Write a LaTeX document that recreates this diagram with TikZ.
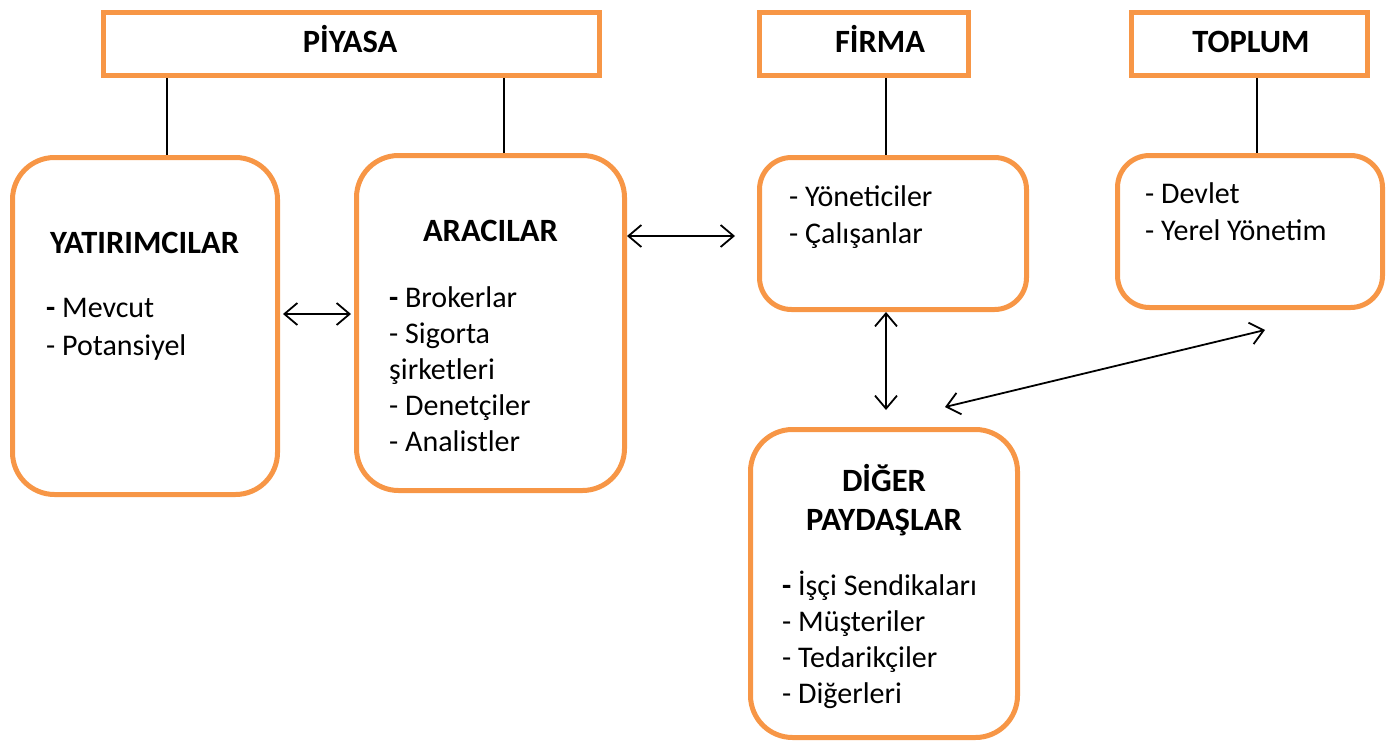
\documentclass[tikz,border=0pt]{standalone}
\usepackage{fontspec}
\setmainfont{Carlito}
\usetikzlibrary{arrows.meta}
\definecolor{boxorange}{HTML}{F79646}
\begin{document}
\begin{tikzpicture}[x=1pt,y=-1pt,
  frame/.style={draw=boxorange, line width=5pt, inner sep=0pt},
  roundbig/.style={frame, rounded corners=42pt},
  roundsmall/.style={frame, rounded corners=32pt},
  title/.style={font=\fontsize{32.5}{38}\selectfont\bfseries, inner sep=0pt, anchor=base},
  entry/.style={font=\fontsize{30}{36}\selectfont, inner sep=0pt, anchor=base west},
  link/.style={line width=1.8pt},
  both/.style={line width=1.8pt,
    {Straight Barb[length=13pt,width=22pt,line width=1.8pt]}-{Straight Barb[length=13pt,width=22pt,line width=1.8pt]}}]
\useasboundingbox (0,0) rectangle (1393,744);

% header boxes
\node[frame, minimum width=496pt, minimum height=63pt] (piyasa) at (351.5,44) {};
\node[frame, minimum width=209pt, minimum height=63pt] (firma) at (864,44) {};
\node[frame, minimum width=236pt, minimum height=63pt] (toplum) at (1249.5,44) {};
\node[title] (tpiyasa) at (350,52) {PİYASA};
\node[title] (tfirma) at (880,52) {FİRMA};
\node[title] (ttoplum) at (1251,52) {TOPLUM};

% group boxes
\node[roundbig, minimum width=265pt, minimum height=337pt] (yat) at (145,326) {};
\node[roundbig, minimum width=268pt, minimum height=335pt] (ara) at (490.5,323) {};
\node[roundsmall, minimum width=267pt, minimum height=152pt] (fbox) at (893,233.5) {};
\node[roundsmall, minimum width=265pt, minimum height=152pt] (tbox) at (1250,231.5) {};
\node[roundbig, minimum width=267pt, minimum height=308pt] (diger) at (884,583.5) {};

% investors
\node[title] (tyat) at (144.5,253) {YATIRIMCILAR};
\node[entry] (y1) at (46,317) {\textbf{-} Mevcut};
\node[entry] (y2) at (46,355) {- Potansiyel};

% intermediaries
\node[title] (tara) at (490.5,241) {ARACILAR};
\node[entry] (a1) at (389,307) {\textbf{-} Brokerlar};
\node[entry] (a2) at (389,343) {- Sigorta};
\node[entry] (a3) at (389,379) {şirketleri};
\node[entry] (a4) at (389,415) {- Denetçiler};
\node[entry] (a5) at (389,451) {- Analistler};

% firm
\node[entry] (f1) at (789,206) {- Yöneticiler};
\node[entry] (f2) at (789,243) {- Çalışanlar};

% society
\node[entry] (s1) at (1145,203) {- Devlet};
\node[entry] (s2) at (1145,240) {- Yerel Yönetim};

% other stakeholders
\node[title] (td1) at (884,491) {DİĞER};
\node[title] (td2) at (884,530) {PAYDAŞLAR};
\node[entry] (d1) at (782,595) {\textbf{-} İşçi Sendikaları};
\node[entry] (d2) at (782,631) {- Müşteriler};
\node[entry] (d3) at (782,667) {- Tedarikçiler};
\node[entry] (d4) at (782,703) {- Diğerleri};

% header links
\draw[link] (piyasa.south -| 167,0) -- (yat.north -| 167,0);
\draw[link] (piyasa.south -| 504,0) -- (ara.north -| 504,0);
\draw[link] (firma.south -| 886,0) -- (fbox.north -| 886,0);
\draw[link] (toplum.south -| 1257,0) -- (tbox.north -| 1257,0);

% free arrow ends
\coordinate (fa) at (735,236);
\coordinate (fd) at (886,410);
\coordinate (dd) at (945,407);
\coordinate (tt) at (1265,330);

% arrows
\draw[both, shorten <=3pt, shorten >=3pt] (yat.east |- 0,314) -- (ara.west |- 0,314);
\draw[both] (ara.east |- 0,236) -- (fa);
\draw[both] (fbox.south -| 886,0) -- (fd);
\draw[both] (dd) -- (tt);
\end{tikzpicture}
\end{document}
